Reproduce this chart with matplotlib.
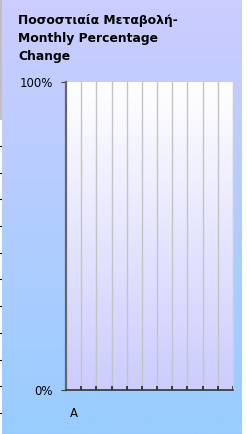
import numpy as np
import matplotlib.pyplot as plt
from matplotlib.colors import LinearSegmentedColormap

# chart data: one labelled category, the rest empty
categories = ['A', '', '', '', '', '', '', '', '', '', '']
values = [0, 0, 0, 0, 0, 0, 0, 0, 0, 0, 0]
ytick_vals = [0, 1]
ytick_labels = ['0%', '100%']
title = 'Ποσοστιαία Μεταβολή-\nMonthly Percentage\nChange'

W, H = 247, 434
fig = plt.figure(figsize=(W / 100, H / 100), dpi=100)
fig.patch.set_facecolor('white')

# background gradient of the whole chart
bg = fig.add_axes([2 / W, 0, 240 / W, 1], zorder=-10)
bg_cmap = LinearSegmentedColormap.from_list('bg', ['#ccccff', '#99ccff'])
bg.imshow(np.linspace(0, 1, 256).reshape(-1, 1), aspect='auto', cmap=bg_cmap,
          extent=[0, 1, 0, 1], origin='upper')
bg.axis('off')

# neighbouring strip on the far left
strip = fig.add_axes([0, 0, 2 / W, 1], zorder=-9)
strip.set_xlim(0, 1)
strip.set_ylim(H, 0)
strip.axvspan(0, 1, ymin=1 - 120 / H, ymax=1, color='#c0c0c0', lw=0)
for yy in np.arange(146, 420, 26.7):
    strip.plot([0, 1], [yy, yy], color='black', lw=0.8)
strip.axis('off')

ax = fig.add_axes([66 / W, 44 / H, 167 / W, 308 / H])
n = len(categories)
ax.set_xlim(0, n)
ax.set_ylim(0, 1)

# plot area gradient
pa_cmap = LinearSegmentedColormap.from_list('pa', ['#ffffff', '#ccccff'])
ax.imshow(np.linspace(0, 1, 256).reshape(-1, 1), aspect='auto', cmap=pa_cmap,
          extent=[0, n, 0, 1], origin='upper', zorder=0)

x = np.arange(n) + 0.5
ax.bar(x, values, width=0.6, color='#3366cc', zorder=3)

# boundaries between categories
ax.set_xticks(np.arange(n + 1))
ax.set_xticklabels([])
ax.set_xticks(x, minor=True)
ax.set_xticklabels(categories, minor=True, fontsize=8.5)
ax.tick_params(axis='x', which='major', direction='in', length=3, width=1.2,
               color='#222222')
ax.tick_params(axis='x', which='minor', length=0, pad=12)
for b in range(1, n + 1):
    ax.axvline(b, color='#c4c4c4', lw=1, zorder=1)

ax.set_yticks(ytick_vals)
ax.set_yticklabels(ytick_labels, fontsize=8.5)
ax.tick_params(axis='y', direction='out', length=3.6, width=0.8, color='#444444', pad=6)

ax.spines['top'].set_visible(False)
ax.spines['right'].set_color('#d0d0d0')
ax.spines['left'].set_color('#666666')
ax.spines['left'].set_linewidth(1.6)
ax.spines['bottom'].set_color('#333333')
ax.spines['bottom'].set_linewidth(1.2)

fig.text(18 / W, 1 - 14 / H, title, fontsize=8.9, fontweight='bold',
         va='top', ha='left', linespacing=1.5)

fig.savefig('out.png', dpi=100)
